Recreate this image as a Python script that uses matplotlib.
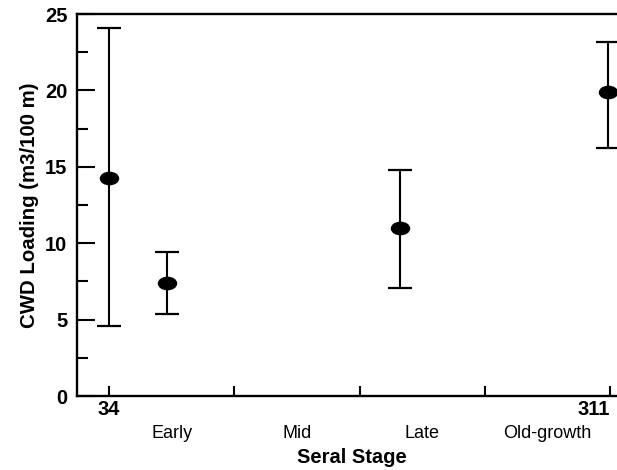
import matplotlib
matplotlib.use("Agg")
import matplotlib.pyplot as plt
import numpy as np
from matplotlib.path import Path
from matplotlib.ticker import FixedLocator, NullFormatter

# stand age (years) of each sampled point and CWD loading (m3/100 m)
stand_age = [34, 66, 195, 310]
cwd_mean = [14.3, 7.4, 11.0, 19.9]
cwd_low = [4.6, 5.4, 7.1, 16.2]
cwd_high = [24.1, 9.4, 14.8, 23.2]

age_min, age_max = 34, 311
stages = ["Early", "Mid", "Late", "Old-growth"]

plt.rcParams["font.family"] = ["Liberation Sans", "DejaVu Sans"]

fig = plt.figure(figsize=(6.17, 4.70), dpi=100)
ax = fig.add_axes([0.1248, 0.1574, 0.8903, 0.8128])

mean = np.array(cwd_mean)
yerr = [mean - np.array(cwd_low), np.array(cwd_high) - mean]

# slightly flattened dot, as in the scanned figure
circle = Path.unit_circle()
dot = Path(circle.vertices * [1.0, 0.68], circle.codes)

ax.errorbar(stand_age, cwd_mean, yerr=yerr, fmt="none", ecolor="black",
            elinewidth=1.5, capsize=8.5, capthick=1.6)
ax.plot(stand_age, cwd_mean, linestyle="none", marker=dot, markersize=13,
        color="black")

ax.set_xlim(16.3, 320)
ax.set_ylim(0, 25)

for side in ["left", "bottom", "top"]:
    ax.spines[side].set_linewidth(1.7)
ax.spines["right"].set_visible(False)

ax.set_yticks(np.arange(0, 26, 5))
ax.yaxis.set_minor_locator(FixedLocator(np.arange(2.5, 25, 5)))
ax.yaxis.set_minor_formatter(NullFormatter())
ax.tick_params(axis="y", which="major", direction="in", length=13, width=1.5,
               pad=7, labelsize=14.5)
ax.tick_params(axis="y", which="minor", direction="in", length=8, width=1.5)
for lab in ax.get_yticklabels():
    lab.set_fontweight("bold")

# stage boundaries and age range on the x axis
bounds = np.linspace(age_min, age_max, len(stages) + 1)
ax.set_xticks(bounds)
ax.set_xticklabels([str(age_min), "", "", "", str(age_max)])
ax.tick_params(axis="x", which="major", direction="in", length=7, width=1.5,
               pad=3, labelsize=14.5)
xlabs = ax.get_xticklabels()
for lab in xlabs:
    lab.set_fontweight("bold")
xlabs[-1].set_horizontalalignment("right")

mids = (bounds[:-1] + bounds[1:]) / 2
ax.set_xticks(mids, minor=True)
ax.set_xticklabels(stages, minor=True)
ax.tick_params(axis="x", which="minor", length=0, pad=21, labelsize=13)

ax.set_xlabel("Seral Stage", fontsize=14.5, fontweight="bold", labelpad=4)
ax.set_ylabel("CWD Loading (m3/100 m)", fontsize=14.7, fontweight="bold",
              labelpad=4)

fig.savefig("out.png", dpi=100)
